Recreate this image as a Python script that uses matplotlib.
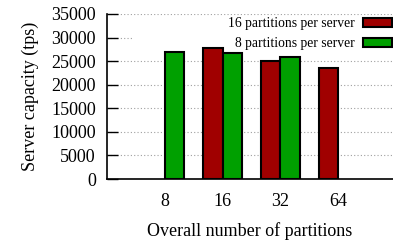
import numpy as np
import matplotlib.pyplot as plt
from matplotlib.patches import Rectangle

plt.rcParams['font.family'] = ['Liberation Serif', 'DejaVu Serif']

# %%
categories = ['8', '16', '32', '64']
p16 = [np.nan, 27800, 25100, 23500]
p8 = [27000, 26800, 25800, np.nan]
labels = ['16 partitions per server', '8 partitions per server']
yticks = np.arange(0, 35001, 5000)

# %%
W, H = 393, 244
fig = plt.figure(figsize=(W / 100, H / 100), dpi=100)
ax = fig.add_axes([107 / W, 1 - 179 / H, 1 - 107 / W, (179 - 14) / H])

x = np.arange(len(categories))
bw = 1 / 3
b1 = ax.bar(x - bw / 2, p16, bw, color='#a00000', edgecolor='black',
            linewidth=1.5, label=labels[0], zorder=3)
b2 = ax.bar(x + bw / 2, p8, bw, color='#00a000', edgecolor='black',
            linewidth=1.5, label=labels[1], zorder=3)

ax.set_xlim(-1, 3.95)
ax.set_ylim(0, 35000)
ax.set_xticks(x)
ax.set_xticklabels(categories)
ax.set_yticks(yticks)
ax.tick_params(axis='x', length=0, pad=10, labelsize=13)
ax.tick_params(axis='y', direction='in', length=8, width=1, labelsize=13, pad=8)
ax.yaxis.grid(True, linestyle=(0, (1, 2)), color='#a0a0a0', linewidth=0.8, zorder=1)
for s in ['top', 'right']:
    ax.spines[s].set_visible(False)
for s in ['left', 'bottom']:
    ax.spines[s].set_linewidth(1.2)
    ax.spines[s].set_zorder(4)

# opaque key area, covers grid like gnuplot does
ax.add_patch(Rectangle((133 / W, 1 - 48 / H), 1, 31 / H, transform=fig.transFigure,
                       facecolor='white', edgecolor='none', zorder=2))

ax.set_ylabel('Server capacity (tps)', fontsize=13, labelpad=9)
ax.set_xlabel('Overall number of partitions', fontsize=13, labelpad=9)

leg = ax.legend(handles=[b1, b2], loc='upper right', bbox_to_anchor=(392 / W, 1 - 17.5 / H),
                bbox_transform=fig.transFigure, frameon=False, markerfirst=False,
                fontsize=9.8, borderpad=0, borderaxespad=0, handlelength=2.1,
                handleheight=0.6, handletextpad=0.6, labelspacing=0.5)
leg.set_zorder(5)

fig.savefig('out.png', dpi=100)
